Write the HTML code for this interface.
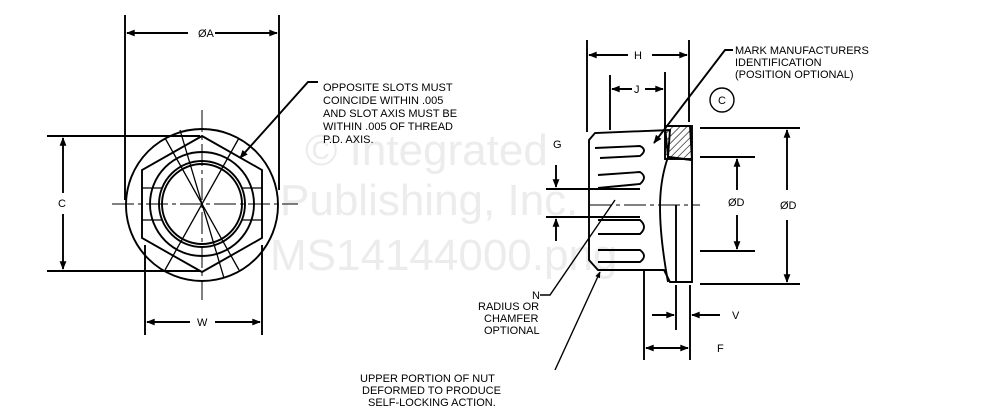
<!DOCTYPE html>
<html><head><style>
html,body{margin:0;padding:0;background:#fff;}
svg{display:block;}
text{font-family:"Liberation Sans",sans-serif;font-size:11px;fill:#000;}
.wm{font-size:44px;fill:#ececec;}
</style></head><body>
<svg width="1006" height="416" viewBox="0 0 1006 416" xmlns="http://www.w3.org/2000/svg">
<defs>
<marker id="a" viewBox="0 0 10 10" refX="9" refY="5" markerWidth="6" markerHeight="4.5" orient="auto-start-reverse"><path d="M0,1 L10,5 L0,9z" fill="#000"/></marker>
<pattern id="h" width="5" height="5" patternUnits="userSpaceOnUse" patternTransform="rotate(45)"><line x1="0" y1="0" x2="0" y2="5" stroke="#000" stroke-width="1.2"/></pattern>
</defs>
<text class="wm" x="305" y="165">© Integrated</text>
<text class="wm" x="280" y="215">Publishing, Inc.</text>
<text class="wm" x="270" y="270">MS14144000.png</text>
<g stroke="#000" stroke-width="1.9" fill="none">
<line x1="125" y1="15" x2="125" y2="200"/><line x1="279" y1="15" x2="279" y2="190"/>
<line x1="127" y1="33" x2="188" y2="33" marker-start="url(#a)"/><line x1="215" y1="33" x2="277" y2="33" marker-end="url(#a)"/>
<circle cx="202" cy="205" r="76"/>
<polygon points="202,136 262,170 262,238 202,272 142,238 142,170"/>
<circle cx="202" cy="204" r="52"/><circle cx="202" cy="204" r="43"/><circle cx="202" cy="204" r="40"/>
<g stroke-width="1.3">
<line x1="165" y1="138" x2="239" y2="270"/><line x1="239" y1="138" x2="165" y2="270"/>
<line x1="180" y1="130" x2="224" y2="278"/>
<line x1="142" y1="188" x2="162" y2="188"/><line x1="142" y1="220" x2="162" y2="220"/>
<line x1="262" y1="188" x2="242" y2="188"/><line x1="262" y1="220" x2="242" y2="220"/>
</g>
<line x1="112" y1="204" x2="298" y2="204" stroke-width="1" stroke-dasharray="22,4,4,4"/>
<line x1="202" y1="110" x2="202" y2="300" stroke-width="1" stroke-dasharray="22,4,4,4"/>
<line x1="47" y1="136" x2="200" y2="136"/><line x1="47" y1="271" x2="200" y2="271"/>
<line x1="63" y1="138" x2="63" y2="193" marker-start="url(#a)"/><line x1="63" y1="214" x2="63" y2="269" marker-end="url(#a)"/>
<line x1="145" y1="245" x2="145" y2="335"/><line x1="262" y1="245" x2="262" y2="335"/>
<line x1="147" y1="322" x2="190" y2="322" marker-start="url(#a)"/><line x1="215" y1="322" x2="260" y2="322" marker-end="url(#a)"/>
<polyline points="318,82 308,82 240,158" marker-end="url(#a)"/>
<line x1="587" y1="40" x2="587" y2="132"/><line x1="689" y1="40" x2="689" y2="122"/>
<line x1="589" y1="55" x2="628" y2="55" marker-start="url(#a)"/><line x1="652" y1="55" x2="687" y2="55" marker-end="url(#a)"/>
<line x1="610" y1="75" x2="610" y2="130"/><line x1="665" y1="72" x2="665" y2="130"/>
<line x1="612" y1="89" x2="632" y2="89" marker-start="url(#a)"/><line x1="645" y1="89" x2="663" y2="89" marker-end="url(#a)"/>
<circle cx="722" cy="100" r="12" stroke-width="1.4"/>
<path d="M589,140 L595,133 L670,130 L668,157 L692,160 L692,282 L670,282 L664,270 L598,270 L589,260 Z"/>
<rect x="665" y="126" width="27" height="33" fill="url(#h)"/>
<path d="M665,126 L690,126 L692,160 L668,157 Z"/>
<path d="M668,157 C660,180 655,210 668,282"/>
<line x1="676" y1="205" x2="676" y2="282"/>
<path d="M595,148 L640,146 Q648,150 640,156 L600,158"/>
<path d="M598,175 L640,172 Q648,177 640,184 L598,188"/>
<path d="M598,220 L640,220 Q648,227 640,234 L598,234"/>
<path d="M598,250 L640,250 Q648,256 640,262 L598,262"/>
<line x1="590" y1="205" x2="700" y2="205" stroke-width="1" stroke-dasharray="22,4,4,4"/>
<line x1="700" y1="128" x2="800" y2="128"/><line x1="700" y1="284" x2="800" y2="284"/>
<line x1="787" y1="130" x2="787" y2="190" marker-start="url(#a)"/><line x1="787" y1="220" x2="787" y2="282" marker-end="url(#a)"/>
<line x1="700" y1="157" x2="755" y2="157"/><line x1="700" y1="251" x2="755" y2="251"/>
<line x1="737" y1="159" x2="737" y2="190" marker-start="url(#a)"/><line x1="737" y1="215" x2="737" y2="249" marker-end="url(#a)"/>
<line x1="546" y1="189" x2="640" y2="189"/><line x1="546" y1="217" x2="640" y2="217"/>
<line x1="556" y1="165" x2="556" y2="187" marker-end="url(#a)"/><line x1="556" y1="241" x2="556" y2="219" marker-end="url(#a)"/>
<line x1="644" y1="270" x2="644" y2="360"/><line x1="676" y1="285" x2="676" y2="330"/><line x1="690" y1="285" x2="690" y2="360"/>
<line x1="652" y1="315" x2="674" y2="315" marker-end="url(#a)"/><line x1="720" y1="315" x2="692" y2="315" marker-end="url(#a)"/>
<line x1="646" y1="348" x2="688" y2="348" marker-start="url(#a)" marker-end="url(#a)"/>
<polyline points="733,50 725,50 654,143" marker-end="url(#a)"/>
<polyline points="540,295 550,295 615,200" stroke-width="1.4"/>
<line x1="555" y1="370" x2="600" y2="272" marker-end="url(#a)" stroke-width="1.4"/>
</g>
<text x="198" y="37">ØA</text>
<text x="58" y="207">C</text>
<text x="197" y="326">W</text>
<text x="323" y="91">OPPOSITE SLOTS MUST</text>
<text x="323" y="104">COINCIDE WITHIN .005</text>
<text x="323" y="117">AND SLOT AXIS MUST BE</text>
<text x="323" y="130">WITHIN .005 OF THREAD</text>
<text x="323" y="143">P.D. AXIS.</text>
<text x="634" y="59">H</text>
<text x="634" y="93">J</text>
<text x="718" y="104">C</text>
<text x="735" y="54">MARK MANUFACTURERS</text>
<text x="735" y="66">IDENTIFICATION</text>
<text x="735" y="78">(POSITION OPTIONAL)</text>
<text x="553" y="148">G</text>
<text x="728" y="206">ØD</text>
<text x="780" y="209">ØD</text>
<text x="732" y="319">V</text>
<text x="717" y="352">F</text>
<text x="532" y="299">N</text>
<text x="478" y="310">RADIUS OR</text>
<text x="484" y="322">CHAMFER</text>
<text x="484" y="334">OPTIONAL</text>
<text x="360" y="382">UPPER PORTION OF NUT</text>
<text x="362" y="394">DEFORMED TO PRODUCE</text>
<text x="368" y="406">SELF-LOCKING ACTION.</text>
</svg>
</body></html>
